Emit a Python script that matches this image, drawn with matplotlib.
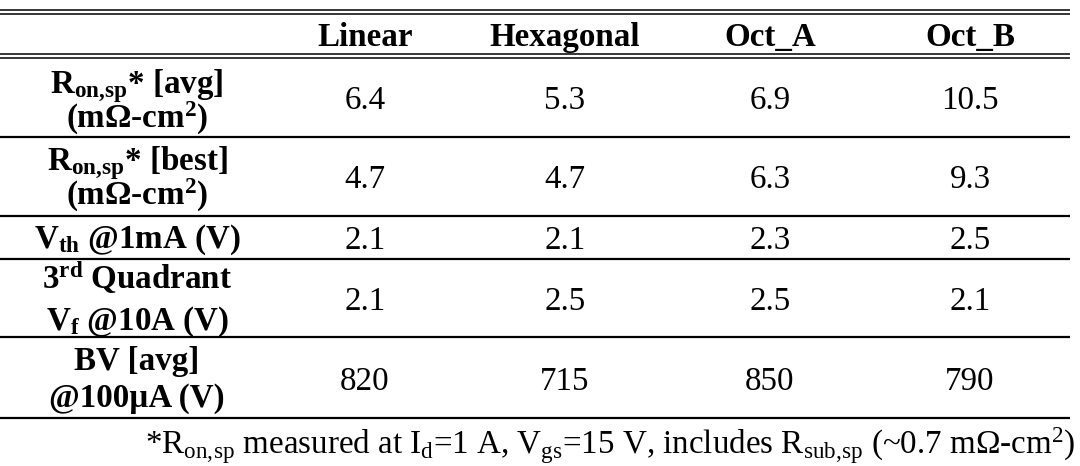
import matplotlib
matplotlib.use("Agg")
import matplotlib.pyplot as plt

plt.rcParams['font.family'] = ['Liberation Serif', 'DejaVu Serif']
plt.rcParams['mathtext.fontset'] = 'custom'
plt.rcParams['mathtext.rm'] = 'Liberation Serif'
plt.rcParams['mathtext.bf'] = 'Liberation Serif:bold'
plt.rcParams['mathtext.it'] = 'Liberation Serif:italic'

# table content
columns = ["Linear", "Hexagonal", "Oct_A", "Oct_B"]
row_labels = [
    r"R$_{\mathbf{on,\!sp}}$* [avg]" + "\n" + r"(mΩ-cm$^{\mathbf{2}}$)",
    r"R$_{\mathbf{on,\!sp}}$* [best]" + "\n" + r"(mΩ-cm$^{\mathbf{2}}$)",
    r"V$_{\mathbf{th}}$ @1mA (V)",
    r"3$^{\mathbf{rd}}$ Quadrant" + "\n" + r"V$_{\mathbf{f}}$ @10A (V)",
    "BV [avg]\n@100µA (V)",
]
linear = [6.4, 4.7, 2.1, 2.1, 820]
hexagonal = [5.3, 4.7, 2.1, 2.5, 715]
oct_a = [6.9, 6.3, 2.3, 2.5, 850]
oct_b = [10.5, 9.3, 2.5, 2.1, 790]
footnote = (r"*R$_{\mathrm{on,\!sp}}$ measured at I$_{\mathrm{d}}$=1 A, "
            r"V$_{\mathrm{gs}}$=15 V, includes R$_{\mathrm{sub,\!sp}}$ "
            r"(~0.7 mΩ-cm$^{\mathrm{2}}$)")

# layout (pixels)
fs = 23.8
col_x = [137, 365, 565, 770, 970]
row_edges = [57.5, 137, 215.5, 258.5, 337, 418]
label_base = [128, 205, 247.5, 330, 407]   # baseline of the last label line
label_ls = [0.84, 0.84, 1.0, 1.33, 1.26]
x_end = 1070

fig = plt.figure(figsize=(10.8, 4.66), dpi=100)
ax = fig.add_axes([0, 0, 1, 1])
ax.set_xlim(0, 1080)
ax.set_ylim(466, 0)
ax.axis("off")

# rules
for y in [9.5, 13.5, 53.5, 57.5]:
    ax.hlines(y, 0, x_end, color="black", lw=1.1)
for y in row_edges[1:]:
    ax.hlines(y, 0, x_end, color="black", lw=1.6)

# header
for x, name in zip(col_x[1:], columns):
    ax.text(x, 46, name, ha="center", va="baseline", fontsize=fs, fontweight="bold")

# body
data = [linear, hexagonal, oct_a, oct_b]
for i in range(len(row_labels)):
    yc = (row_edges[i] + row_edges[i + 1]) / 2
    ax.text(col_x[0], label_base[i], row_labels[i], ha="center", va="baseline",
            multialignment="center", linespacing=label_ls[i],
            fontsize=fs, fontweight="bold")
    for j, series in enumerate(data):
        ax.text(col_x[j + 1], yc + 12, f"{series[i]:g}", ha="center", va="baseline",
                fontsize=fs)

ax.text(1075, 454, footnote, ha="right", va="baseline", fontsize=fs)

fig.savefig("out.png", dpi=100, facecolor="white")
